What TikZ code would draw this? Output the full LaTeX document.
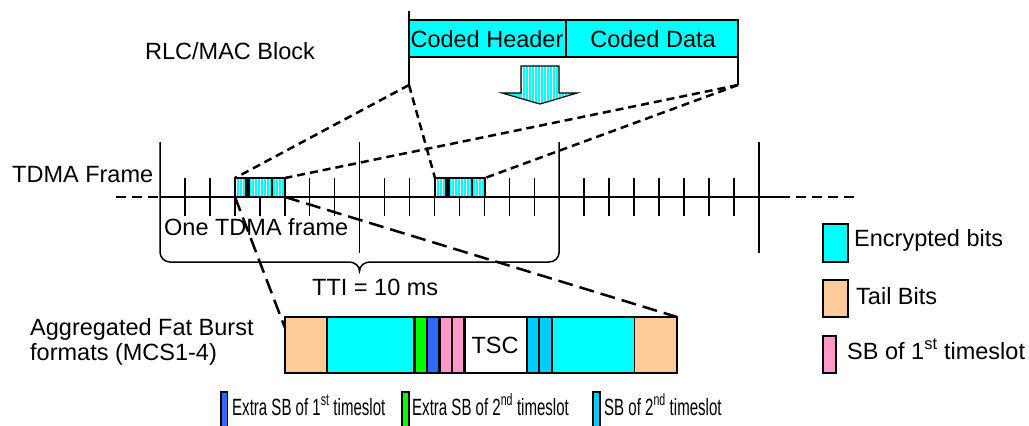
\documentclass[tikz,border=0pt]{standalone}
\usepackage{fontspec}
\setmainfont{Liberation Sans}
\definecolor{cyn}{HTML}{00FFFF}
\definecolor{tailc}{HTML}{FFCC99}
\definecolor{grn}{HTML}{00FF00}
\definecolor{blu}{HTML}{3366FF}
\definecolor{pnk}{HTML}{FF99CC}
\definecolor{lblu}{HTML}{00CCFF}
\tikzset{
  txt/.style={font=\fontsize{23.5}{25}\selectfont, inner sep=0pt, anchor=base west},
  ctxt/.style={font=\fontsize{23.5}{25}\selectfont, inner sep=0pt, anchor=base},
  seg/.style={draw=black, line width=1.3pt},
  shortdash/.style={line width=2.5pt, dash pattern=on 8pt off 5pt},
  longdash/.style={line width=2.5pt, dash pattern=on 15pt off 7pt},
  tlinedash/.style={line width=2.5pt, dash pattern=on 10pt off 6pt},
  tickline/.style={line width=1.5pt},
}
\newcommand{\narrow}[1]{\scalebox{0.64}[1]{#1}}
\begin{document}
\begin{tikzpicture}[x=1pt,y=-1pt]
\clip (0,0) rectangle (1029,426);
\fill[white] (0,0) rectangle (1029,426);

% ---- RLC/MAC block ----
\node[txt] (rlc) at (145,59.5) {RLC/MAC Block};
\draw[seg, fill=cyn] (409,20) rectangle (566,57);
\draw[seg, fill=cyn] (566,20) rectangle (738,57);
\node[ctxt] (hdr) at (487,47) {Coded Header};
\node[ctxt] (dat) at (653,47) {Coded Data};
\coordinate (rlcL) at (409,85);
\coordinate (rlcR) at (738,85);
\draw[tickline] (409,11) -- (rlcL);
\draw[tickline] (738,20) -- (rlcR);

% ---- big arrow ----
\begin{scope}
  \clip (521,66)--(559,66)--(559,93)--(577,93)--(540,104)--(502,93)--(521,93)--cycle;
  \fill[cyn] (500,60) rectangle (580,106);
  \foreach \x in {522,525,...,580} \draw[white, line width=1pt] (\x,60) -- (\x,106);
\end{scope}
\draw[line width=1.2pt] (521,66)--(559,66)--(559,93)--(577,93)--(540,104)--(502,93)--(521,93)--cycle;

% ---- TDMA timeline ----
\node[txt] (tdma) at (12,182) {TDMA Frame};
\draw[tlinedash] (116,197) -- (160,197);
\draw[tickline] (160,197) -- (780,197);
\draw[tlinedash] (780,197) -- (857,197);
\foreach \k in {1,...,7,9,10,...,15,17,18,...,23}
  \draw[tickline] ({160+24.95*\k},178) -- ({160+24.95*\k},216);
\draw[tickline] (359.6,142) -- (359.6,253);
\draw[tickline] (758.8,142) -- (758.8,253);
% brace
\draw[tickline] (160,142) -- (160,252) to[out=-90,in=180] (170,262) -- (349,262)
  to[out=0,in=90] (359.5,271) to[out=90,in=180] (370,262) -- (549,262)
  to[out=0,in=-90] (559.2,252) -- (559.2,142);
\node[txt] (one) at (164,235) {One TDMA frame};
\node[txt] (tti) at (312,295) {TTI = 10 ms};

% highlighted slots
\foreach \s in {235,435}{
  \begin{scope}
    \clip (\s,178) rectangle (\s+50,197);
    \fill[cyn] (\s,178) rectangle (\s+50,197);
    \foreach \i in {1,4,...,49} \draw[white, line width=1pt] (\s+\i,178) -- (\s+\i,197);
  \end{scope}
  \fill[black] (\s+10,178) rectangle (\s+15,197);
  \fill[black] (\s+35.5,178) rectangle (\s+38,197);
  \draw[tickline] (\s,178) rectangle (\s+50,197);
}
\coordinate (aTL) at (235,178);
\coordinate (aTR) at (285,178);
\coordinate (aBL) at (235,197);
\coordinate (aBR) at (285,197);
\coordinate (bTL) at (435,178);
\coordinate (bTR) at (485,178);

% ---- aggregated burst ----
\node[txt] (agg1) at (30,335) {Aggregated Fat Burst};
\node[txt] (agg2) at (30,360) {formats (MCS1-4)};
\foreach \a/\b/\c in {285/327/tailc, 327/414/cyn, 415.5/426.5/grn, 427.5/439/blu,
  440.5/451.5/pnk, 452.5/464/pnk, 465/527/white, 527.5/538.5/lblu, 539.5/552/lblu,
  552.5/634.5/cyn, 634.5/677/tailc}
  \draw[seg, fill=\c] (\a,317) rectangle (\b,373);
\node[ctxt] (tsc) at (495,353) {TSC};
\coordinate (burstL) at (285,328);
\coordinate (burstR) at (677,317);

% ---- dashed connectors ----
\draw[shortdash] (rlcL) -- (aTL);
\draw[shortdash] (rlcR) -- (aTR);
\draw[shortdash] (rlcL) -- (bTL);
\draw[shortdash] (rlcR) -- (bTR);
\draw[longdash] (aBL) -- (burstL);
\draw[longdash] (aBR) -- (burstR);

% ---- legend right ----
\draw[seg, fill=cyn] (823,224) rectangle (848,262);
\node[txt] (lg1) at (854,246) {Encrypted bits};
\draw[seg, fill=tailc] (823,280) rectangle (848,317);
\node[txt] (lg2) at (856,304) {Tail Bits};
\draw[seg, fill=pnk] (823,336) rectangle (836,373);
\node[txt] (lg3) at (847,359) {SB of 1\textsuperscript{st} timeslot};

% ---- legend bottom ----
\draw[seg, fill=blu] (221,392) rectangle (227.5,430);
\node[txt] (lg4) at (232,415) {\narrow{Extra SB of 1\textsuperscript{st} timeslot}};
\draw[seg, fill=grn] (402,392) rectangle (409,430);
\node[txt] (lg5) at (412,415) {\narrow{Extra SB of 2\textsuperscript{nd} timeslot}};
\draw[seg, fill=lblu] (593,392) rectangle (600,430);
\node[txt] (lg6) at (604,415) {\narrow{SB of 2\textsuperscript{nd} timeslot}};
\end{tikzpicture}
\end{document}
